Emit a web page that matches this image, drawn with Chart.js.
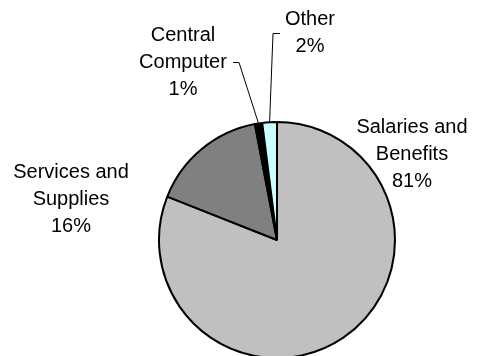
<!DOCTYPE html>
<html>
<head>
<meta charset="utf-8">
<script src="https://cdn.jsdelivr.net/npm/chart.js@4.4.1/dist/chart.umd.min.js"></script>
<style>
  html, body { margin: 0; padding: 0; background: #fff; overflow: hidden; }
  #wrap { width: 479px; height: 356px; }
</style>
</head>
<body>
<div id="wrap"><canvas id="budget-pie"></canvas></div>
<script>
    "use strict";

    // Budget breakdown (percent of total)
    var categories = ["Salaries and Benefits", "Services and Supplies", "Central Computer", "Other"];
    var labelLines = [["Salaries and", "Benefits"], ["Services and", "Supplies"], ["Central", "Computer"], ["Other"]];
    var shares = [81, 16, 1, 2];

    // where each label block sits, and the elbow of its leader line (if any)
    var labelPlacement = [
        { x: 412, y: 127 },
        { x: 71, y: 172 },
        { x: 183, y: 35, elbow: { x: 239, y: 62, tick: -6 } },
        { x: 310, y: 19, elbow: { x: 273, y: 33, tick: 7 } }
    ];

    var FONT = "20px Arial, 'Liberation Sans', sans-serif";
    var LINE_H = 27;

    // Slice labels with leader lines
    var pieLabels = {
        id: "pieLabels",
        afterDatasetsDraw: function (chart) {
            var ctx = chart.ctx;
            var meta = chart.getDatasetMeta(0);
            ctx.save();
            ctx.font = FONT;
            ctx.fillStyle = "#000";
            ctx.textAlign = "center";
            ctx.textBaseline = "middle";
            labelLines.forEach(function (lines, i) {
                var p = labelPlacement[i];
                var rows = lines.concat([shares[i] + "%"]);
                rows.forEach(function (txt, r) {
                    ctx.fillText(txt, p.x, p.y + r * LINE_H);
                });
                if (p.elbow) {
                    var arc = meta.data[i].getProps(["x", "y", "startAngle", "endAngle", "outerRadius"], true);
                    var mid = (arc.startAngle + arc.endAngle) / 2;
                    var ex = arc.x + Math.cos(mid) * arc.outerRadius;
                    var ey = arc.y + Math.sin(mid) * arc.outerRadius;
                    ctx.beginPath();
                    ctx.lineWidth = 1;
                    ctx.strokeStyle = "#000";
                    ctx.moveTo(p.elbow.x + p.elbow.tick, p.elbow.y + 0.5);
                    ctx.lineTo(p.elbow.x, p.elbow.y + 0.5);
                    ctx.lineTo(ex, ey);
                    ctx.stroke();
                }
            });
            ctx.restore();
        }
    };

    var ctx = document.getElementById("budget-pie").getContext("2d");
    var budgetChart = new Chart(ctx, {
        type: "pie",
        data: {
            labels: categories,
            datasets: [{
                data: shares,
                backgroundColor: [
                    "#c0c0c0", // Salaries and Benefits
                    "#808080", // Services and Supplies
                    "#000000", // Central Computer
                    "#ccffff"  // Other
                ],
                borderColor: "#000",
                borderWidth: 2,
                clip: false
            }]
        },
        options: {
            responsive: true,
            maintainAspectRatio: false,
            animation: false,
            radius: 118,
            layout: { padding: { left: 159, right: 84, top: 124, bottom: 0 } },
            plugins: {
                legend: { display: false },
                tooltip: { enabled: false }
            }
        },
        plugins: [pieLabels]
    });
</script>
</body>
</html>
